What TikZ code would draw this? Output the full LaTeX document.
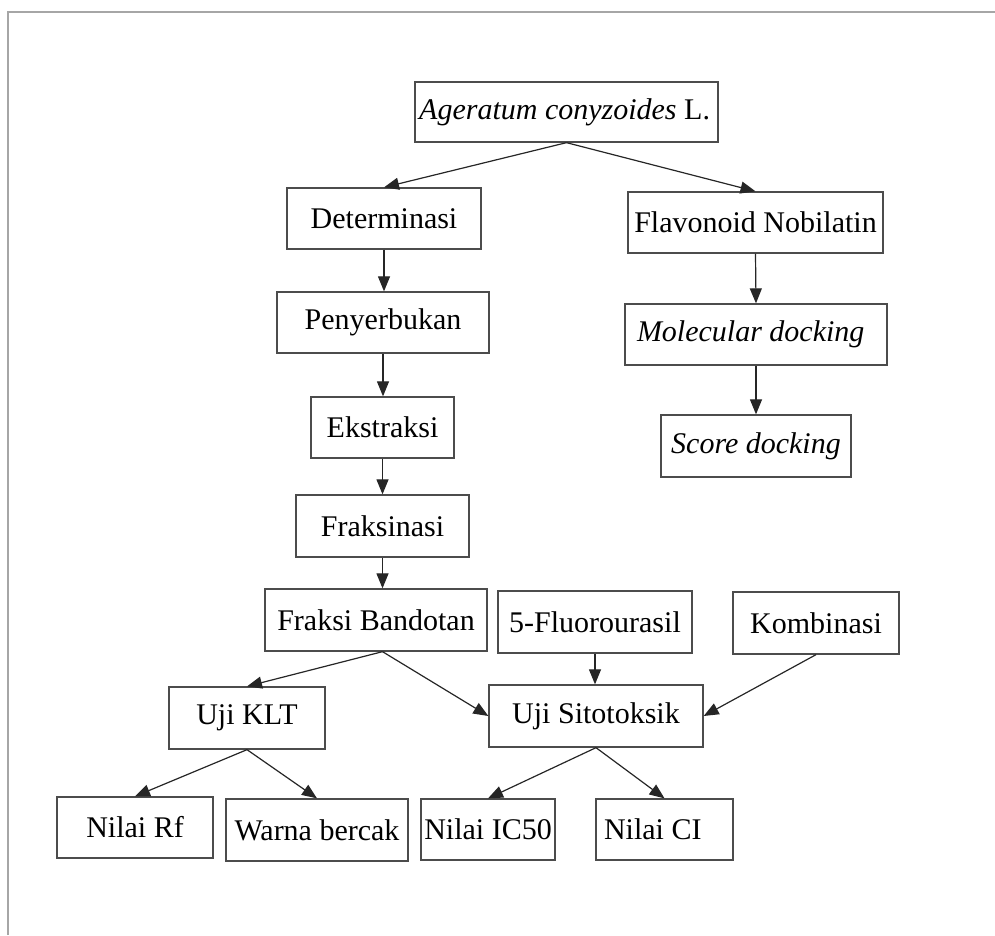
\documentclass[tikz,border=0pt]{standalone}
\usepackage{fontspec}
\setmainfont{Liberation Serif}
\usetikzlibrary{arrows.meta,positioning}
\tikzset{
	flow/.style={x=1pt,y=-1pt},
	box/.style 2 args={draw=black!70,line width=1.3pt,
		minimum width=#1,minimum height=#2,inner sep=0pt,
		font=\fontsize{30}{36}\selectfont},
	ar/.style={-{Triangle[length=15pt,width=12pt]},line width=1.2pt,draw=black!85},
	frame/.style={line width=2pt,draw=black!35}
}
\newcommand{\lbox}[2]{\makebox[#1][l]{#2}}
\newcommand{\rbox}[2]{\makebox[#1][r]{#2}}

\begin{document}
\begin{tikzpicture}[flow]
	\useasboundingbox (0,0) rectangle (995,935);
	% page frame
	\draw[frame] (8,935) -- (8,12) -- (995,12);

	% main column
	\node[box={303}{60}] (agc) at (566.5,112) {\rbox{287pt}{\textit{Ageratum conyzoides} L.}};
	\node[box={194}{61}] (det) at (384,218.5) {Determinasi};
	\node[box={212}{61}] (pen) at (383,322.5) {Penyerbukan};
	\node[box={143}{61}] (eks) at (382.5,427.5) {Ekstraksi};
	\node[box={173}{62}] (fks) at (382.5,526) {Fraksinasi};
	\node[box={222}{62}] (fba) at (376,620) {Fraksi Bandotan};

	% docking column
	\node[box={255}{61}] (fla) at (755.5,222.5) {Flavonoid Nobilatin};
	\node[box={262}{61}] (mol) at (756,334.5) {\lbox{238pt}{\textit{Molecular docking}}};
	\node[box={190}{62}] (sco) at (756,446) {\textit{Score docking}};

	% tests
	\node[box={194}{62}] (flu) at (595,622) {5-Fluorourasil};
	\node[box={166}{62}] (kom) at (816,623) {Kombinasi};
	\node[box={156}{62}] (klt) at (247,718) {Uji KLT};
	\node[box={214}{62}] (sit) at (596,716) {Uji Sitotoksik};

	% results
	\node[box={156}{61}] (nrf) at (135,827.5) {Nilai Rf};
	\node[box={182}{62}] (wrn) at (317,830) {Warna bercak};
	\node[box={134}{61}] (nic) at (488,829.5) {Nilai IC50};
	\node[box={137}{61}] (nci) at (664.5,829.5) {\lbox{121pt}{Nilai CI}};

	\draw[ar] (agc.south) -- (det.north);
	\draw[ar] (agc.south) -- (fla.north);
	\draw[ar] (det.south) -- (pen.north -| det.south);
	\draw[ar] (pen.south) -- (eks.north -| pen.south);
	\draw[ar] (eks.south) -- (fks.north);
	\draw[ar] (fks.south) -- (fba.north -| fks.south);
	\draw[ar] (fla.south) -- (mol.north);
	\draw[ar] (mol.south) -- (sco.north);
	\draw[ar] (fba.south -| fks.south) -- (klt.north);
	\draw[ar] (fba.south -| fks.south) -- (sit.west);
	\draw[ar] (flu.south) -- (sit.north -| flu.south);
	\draw[ar] (kom.south) -- (sit.east);
	\draw[ar] (klt.south) -- (nrf.north);
	\draw[ar] (klt.south) -- (wrn.north);
	\draw[ar] (sit.south) -- (nic.north);
	\draw[ar] (sit.south) -- (nci.north);
\end{tikzpicture}
\end{document}
